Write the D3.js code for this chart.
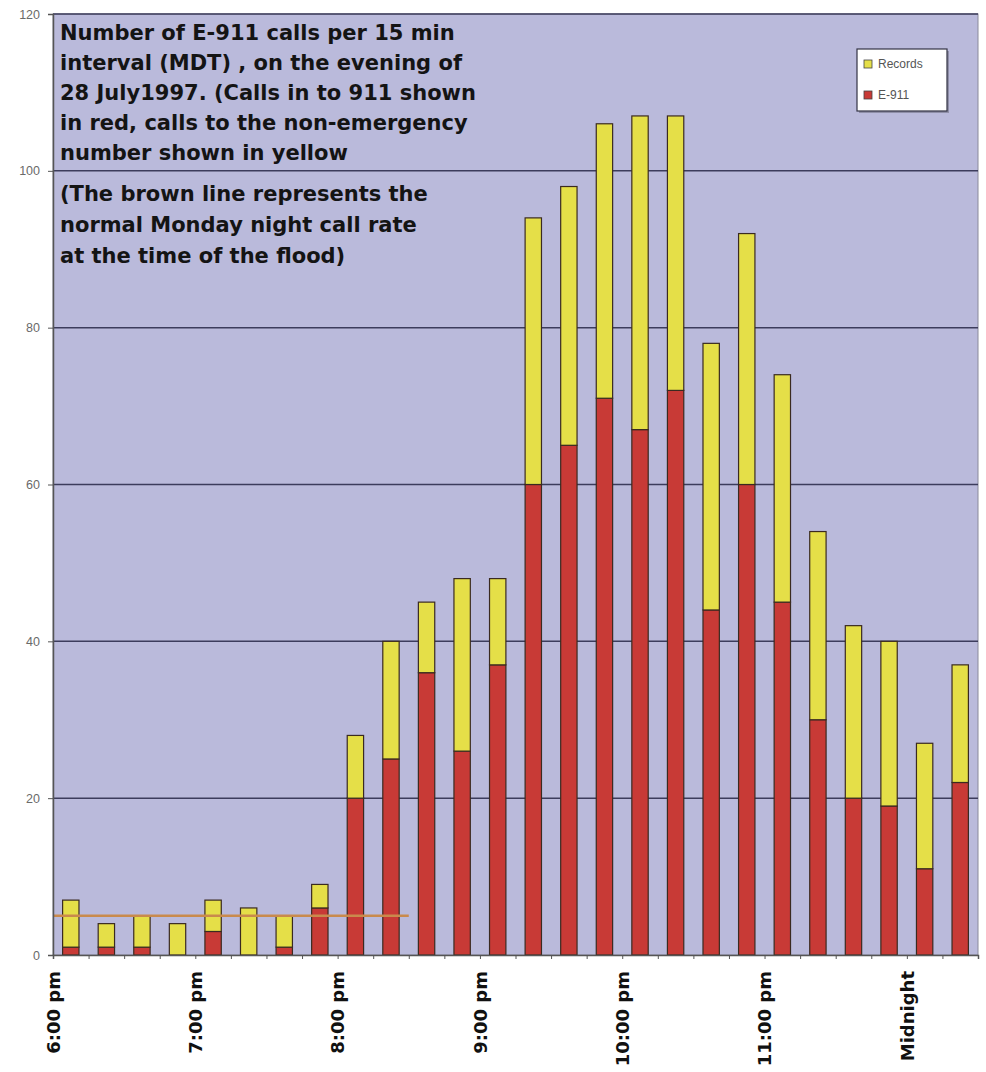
<!DOCTYPE html>
<html>
<head>
<meta charset="utf-8">
<script src="https://cdn.jsdelivr.net/npm/d3@7"></script>
<style>
  html, body { margin: 0; padding: 0; background: #ffffff; }
  svg { display: block; }
</style>
</head>
<body>
<svg id="chart" width="986" height="1072"></svg>
<script>
// ---- data ----
const slots = ["18:00","18:15","18:30","18:45","19:00","19:15","19:30","19:45",
  "20:00","20:15","20:30","20:45","21:00","21:15","21:30","21:45",
  "22:00","22:15","22:30","22:45","23:00","23:15","23:30","23:45",
  "00:00","00:15"];
const e911 = [1,1,1,0,3,0,1,6,20,25,36,26,37,60,65,71,67,72,44,60,45,30,20,19,11,22];
const records = [6,3,4,4,4,6,4,3,8,15,9,22,11,34,33,35,40,35,34,32,29,24,22,21,16,15];
const hourLabels = ["6:00 pm","7:00 pm","8:00 pm","9:00 pm","10:00 pm","11:00 pm","Midnight"];
const yTicks = [0,20,40,60,80,100,120];
const normalRate = 5;          // normal Monday night call rate
const normalRateSlots = 10;    // span of the brown line, in 15-min slots
const seriesNames = ["Records","E-911"];
const titleLines1 = [
  "Number of E-911 calls per 15 min",
  "interval (MDT) , on the evening of",
  "28 July1997.  (Calls in to 911 shown",
  "in red, calls to the non-emergency",
  "number shown in yellow"
];
const titleLines2 = [
  "(The brown line represents the",
  "normal Monday night call rate",
  "at the time of the flood)"
];

// ---- layout ----
const svg = d3.select("#chart");
const L = 53, R = 978, T = 14, B = 955;
const colors = { "E-911": "#c83a36", "Records": "#e5df48" };
const plotBg = "#babadb";

const x = d3.scaleBand().domain(slots).range([L, R]).paddingInner(0.54).paddingOuter(0.27);
const xb = d3.scalePoint().domain(d3.range(slots.length + 1)).range([L, R]);
const y = d3.scaleLinear().domain([0, 120]).range([B, T]);

// plot background
svg.append("rect").attr("x", L).attr("y", T).attr("width", R - L).attr("height", B - T)
  .attr("fill", plotBg).attr("stroke", "#8a8a9a").attr("stroke-width", 1);

// gridlines
svg.append("g").selectAll("line").data(yTicks.filter(d => d > 0)).join("line")
  .attr("x1", L).attr("x2", R).attr("y1", d => y(d)).attr("y2", d => y(d))
  .attr("stroke", "#3c3c5c").attr("stroke-width", 1.5);

// stacked data
const stackData = slots.map((s, i) => ({ slot: s, "E-911": e911[i], "Records": records[i] }));
const stack = d3.stack().keys(["E-911", "Records"]);
const layers = stack(stackData);

svg.append("g").selectAll("g").data(layers).join("g")
  .attr("fill", d => colors[d.key])
  .selectAll("rect").data(d => d.filter(p => p[1] > p[0])).join("rect")
  .attr("x", d => x(d.data.slot))
  .attr("width", x.bandwidth())
  .attr("y", d => y(d[1]))
  .attr("height", d => y(d[0]) - y(d[1]))
  .attr("stroke", "#3a2a20").attr("stroke-width", 1.2);

// normal rate line
svg.append("line")
  .attr("x1", xb(0)).attr("x2", xb(normalRateSlots))
  .attr("y1", y(normalRate)).attr("y2", y(normalRate))
  .attr("stroke", "#c98a4c").attr("stroke-width", 2.5);

// y axis
const yAxis = svg.append("g").attr("transform", `translate(${L},0)`)
  .call(d3.axisLeft(y).tickValues(yTicks).tickSize(5).tickPadding(8));
yAxis.select(".domain").attr("stroke", "#555").attr("stroke-width", 1.5);
yAxis.selectAll(".tick line").attr("stroke", "#555");
yAxis.selectAll(".tick text").attr("fill", "#6a6a6a")
  .style("font-family", "Liberation Sans, Arial, sans-serif").style("font-size", "12.5px");

// x axis (ticks at slot boundaries)
const xAxis = svg.append("g").attr("transform", `translate(0,${B})`)
  .call(d3.axisBottom(xb).tickSize(4).tickPadding(10)
    .tickFormat(i => (i % 4 === 0 && i / 4 < hourLabels.length) ? hourLabels[i / 4] : ""));
xAxis.select(".domain").attr("stroke", "#555").attr("stroke-width", 1.5);
xAxis.selectAll(".tick line").attr("stroke", "#555");
xAxis.selectAll(".tick text")
  .attr("transform", "rotate(-90)")
  .attr("x", -16).attr("y", 0).attr("dy", "0.35em")
  .attr("text-anchor", "end")
  .attr("fill", "#111")
  .style("font-family", "DejaVu Sans, sans-serif").style("font-weight", "bold").style("font-size", "18px");

// title text
const tg = svg.append("g")
  .style("font-family", "DejaVu Sans, sans-serif").style("font-weight", "bold")
  .style("font-size", "21px").attr("fill", "#141414");
tg.selectAll("text.t1").data(titleLines1).join("text").attr("class", "t1")
  .attr("x", 60).attr("y", (d, i) => 40 + i * 30).text(d => d);
tg.selectAll("text.t2").data(titleLines2).join("text").attr("class", "t2")
  .attr("x", 60).attr("y", (d, i) => 201 + i * 31).text(d => d);

// legend
const lg = svg.append("g").attr("transform", "translate(857,49)");
lg.append("rect").attr("x", 2).attr("y", 2).attr("width", 90).attr("height", 62).attr("fill", "#8f8fa8");
lg.append("rect").attr("width", 90).attr("height", 62).attr("fill", "#ffffff")
  .attr("stroke", "#333344").attr("stroke-width", 1.2);
const li = lg.selectAll("g.item").data(seriesNames).join("g").attr("class", "item")
  .attr("transform", (d, i) => `translate(7,${15 + i * 31})`);
li.append("rect").attr("x", 0).attr("y", -4).attr("width", 8).attr("height", 8)
  .attr("fill", d => colors[d]).attr("stroke", "#444").attr("stroke-width", 0.8);
li.append("text").attr("x", 14).attr("y", 0).attr("dy", "0.35em")
  .attr("fill", "#555").style("font-family", "Liberation Sans, Arial, sans-serif").style("font-size", "12px")
  .text(d => d);
</script>
</body>
</html>
